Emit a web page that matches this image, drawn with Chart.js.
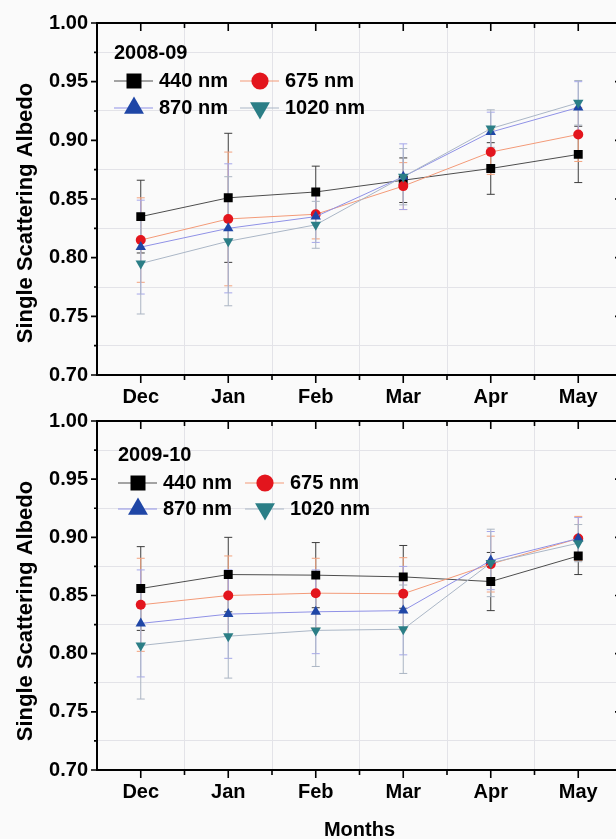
<!DOCTYPE html>
<html>
<head>
<meta charset="utf-8">
<script src="https://cdn.jsdelivr.net/npm/chart.js@4/dist/chart.umd.min.js"></script>
<style>
  html, body { margin: 0; padding: 0; background: #fafafa; overflow: hidden; width: 616px; height: 839px; }
  canvas { position: absolute; left: 0; }
  #c1 { top: 0; }
  #c2 { top: 400px; }
</style>
</head>
<body>
<canvas id="c1" width="632" height="410"></canvas>
<canvas id="c2" width="632" height="445"></canvas>
<script>
const months = ['Dec', 'Jan', 'Feb', 'Mar', 'Apr', 'May'];
const yMajor = [0.70, 0.75, 0.80, 0.85, 0.90, 0.95, 1.00];
const seriesLabels = ['440 nm', '675 nm', '870 nm', '1020 nm'];

// 2008-09 single scattering albedo and error (+/-)
const ssa0809_440 = [0.835, 0.851, 0.856, 0.866, 0.876, 0.888];
const err0809_440 = [0.031, 0.055, 0.022, 0.019, 0.022, 0.024];
const ssa0809_675 = [0.815, 0.833, 0.837, 0.861, 0.890, 0.905];
const err0809_675 = [0.036, 0.057, 0.021, 0.020, 0.019, 0.023];
const ssa0809_870 = [0.809, 0.825, 0.835, 0.869, 0.907, 0.928];
const err0809_870 = [0.040, 0.055, 0.022, 0.028, 0.017, 0.022];
const ssa0809_1020 = [0.795, 0.814, 0.828, 0.869, 0.910, 0.932];
const err0809_1020 = [0.043, 0.055, 0.020, 0.024, 0.016, 0.019];

// 2009-10
const ssa0910_440 = [0.856, 0.868, 0.8675, 0.866, 0.862, 0.884];
const err0910_440 = [0.036, 0.032, 0.028, 0.027, 0.025, 0.016];
const ssa0910_675 = [0.842, 0.850, 0.852, 0.8515, 0.877, 0.899];
const err0910_675 = [0.040, 0.034, 0.030, 0.031, 0.024, 0.019];
const ssa0910_870 = [0.826, 0.834, 0.836, 0.837, 0.880, 0.899];
const err0910_870 = [0.046, 0.038, 0.036, 0.038, 0.025, 0.018];
const ssa0910_1020 = [0.807, 0.815, 0.820, 0.821, 0.878, 0.895];
const err0910_1020 = [0.046, 0.036, 0.031, 0.038, 0.029, 0.016];

const FONT = '"Liberation Sans", Arial, Helvetica, sans-serif';

// marker / line looks for each wavelength
const styles = [
    { borderColor: '#4d4d4d', pointBackgroundColor: '#000000', pointStyle: 'rect', pointRadius: 6.3, errColor: '#3c3c3c', legendRadius: 10.6, order: 3 },
    { borderColor: '#f39a78', pointBackgroundColor: '#e3151d', pointStyle: 'circle', pointRadius: 5, errColor: '#f2a27e', legendRadius: 8.6, order: 2 },
    { borderColor: '#8f91e6', pointBackgroundColor: '#1f46a6', pointStyle: 'triangle', pointRadius: 6, errColor: '#a5a7ea', legendRadius: 11.5, order: 1 },
    { borderColor: '#aab6c6', pointBackgroundColor: '#2b7e86', pointStyle: 'triangle', pointRotation: 180, pointRadius: 6, errColor: '#abb5c3', legendRadius: 11.5, order: 0 }
];

function makeDatasets(values, errors) {
    return values.map((v, i) => Object.assign({
        label: seriesLabels[i],
        data: v,
        errors: errors[i],
        borderWidth: 1,
        pointBorderColor: styles[i].pointBackgroundColor,
        pointBorderWidth: 0,
        tension: 0
    }, styles[i]));
}

// vertical error bars with caps
const errorBars = {
    id: 'errorBars',
    beforeDatasetsDraw(chart) {
        const ctx = chart.ctx;
        const y = chart.scales.y;
        chart.data.datasets.forEach((ds, i) => {
            const meta = chart.getDatasetMeta(i);
            ctx.save();
            ctx.strokeStyle = ds.errColor;
            ctx.lineWidth = 1;
            ctx.beginPath();
            meta.data.forEach((pt, j) => {
                const yt = y.getPixelForValue(ds.data[j] + ds.errors[j]);
                const yb = y.getPixelForValue(ds.data[j] - ds.errors[j]);
                ctx.moveTo(pt.x, yt); ctx.lineTo(pt.x, yb);
                ctx.moveTo(pt.x - 4, yt); ctx.lineTo(pt.x + 4, yt);
                ctx.moveTo(pt.x - 4, yb); ctx.lineTo(pt.x + 4, yb);
            });
            ctx.stroke();
            ctx.restore();
        });
    }
};

// box frame plus major/minor tick marks, and the y title centred on the panel
const frameTicks = {
    id: 'frameTicks',
    afterDraw(chart) {
        const { ctx, chartArea: a, scales: { x, y } } = chart;
        ctx.save();
        ctx.strokeStyle = '#000';
        ctx.lineWidth = 2;
        ctx.strokeRect(a.left, a.top, a.right - a.left, a.bottom - a.top);
        ctx.lineWidth = 1.6;
        ctx.beginPath();
        yMajor.forEach((v, k) => {
            const py = y.getPixelForValue(v);
            ctx.moveTo(a.left - 6, py); ctx.lineTo(a.left, py);
            ctx.moveTo(a.right, py); ctx.lineTo(a.right - 7, py);
            if (k < yMajor.length - 1) {
                const pm = (py + y.getPixelForValue(yMajor[k + 1])) / 2;
                ctx.moveTo(a.left - 3, pm); ctx.lineTo(a.left, pm);
                ctx.moveTo(a.right, pm); ctx.lineTo(a.right - 4, pm);
            }
        });
        const step = x.getPixelForValue(1) - x.getPixelForValue(0);
        months.forEach((m, i) => {
            const px = x.getPixelForValue(i);
            ctx.moveTo(px, a.bottom); ctx.lineTo(px, a.bottom + 8);
            ctx.moveTo(px, a.top); ctx.lineTo(px, a.top + 8);
            const mx = px + step / 2;
            ctx.moveTo(mx, a.bottom); ctx.lineTo(mx, a.bottom + 5);
            ctx.moveTo(mx, a.top); ctx.lineTo(mx, a.top + 5);
        });
        ctx.stroke();

        ctx.translate(26, a.top + 190);
        ctx.rotate(-Math.PI / 2);
        ctx.font = 'bold 22px ' + FONT;
        ctx.fillStyle = '#000';
        ctx.textAlign = 'center';
        ctx.textBaseline = 'middle';
        ctx.fillText('Single Scattering Albedo', 0, 0);
        ctx.restore();
    }
};

// two-column legend box with a season title
const boxLegend = {
    id: 'boxLegend',
    afterDraw(chart, args, opts) {
        const ctx = chart.ctx;
        const a = chart.chartArea;
        ctx.save();
        ctx.font = 'bold 20px ' + FONT;
        ctx.textBaseline = 'middle';
        ctx.textAlign = 'left';
        ctx.fillStyle = '#000';
        ctx.fillText(opts.title, a.left + opts.x, a.top + opts.titleY);
        chart.data.datasets.forEach((ds, i) => {
            const col = i % 2, row = Math.floor(i / 2);
            const lx = a.left + opts.x + col * opts.colW;
            const ly = a.top + opts.rowY + row * opts.rowH;
            ctx.strokeStyle = ds.borderColor;
            ctx.lineWidth = 1;
            ctx.beginPath();
            ctx.moveTo(lx, ly); ctx.lineTo(lx + 39, ly);
            ctx.stroke();
            ctx.fillStyle = ds.pointBackgroundColor;
            ctx.strokeStyle = ds.pointBackgroundColor;
            Chart.helpers.drawPoint(ctx, {
                pointStyle: ds.pointStyle, radius: ds.legendRadius,
                rotation: ds.pointRotation || 0, borderWidth: 0
            }, lx + 20, ly);
            ctx.fillStyle = '#000';
            ctx.fillText(ds.label, lx + 45, ly);
        });
        ctx.restore();
    }
};

function isMajor(v) {
    return Math.abs(v * 20 - Math.round(v * 20)) < 1e-6;
}

function makeOptions(legendOpts, padTop, xHeight, showXTitle) {
    return {
        responsive: false,
        animation: false,
        layout: { padding: { left: 0, top: padTop, right: 10, bottom: 0 } },
        plugins: {
            legend: { display: false },
            tooltip: { enabled: false },
            boxLegend: legendOpts
        },
        scales: {
            x: {
                type: 'category',
                offset: true,
                grid: { offset: true, color: '#e3e3e8', drawTicks: false },
                border: { display: false },
                ticks: { color: '#000', font: { family: FONT, size: 20, weight: 'bold' }, padding: 10, maxRotation: 0, autoSkip: false },
                title: {
                    display: showXTitle, text: 'Months', color: '#000',
                    font: { family: FONT, size: 20, weight: 'bold' },
                    padding: { top: 0, bottom: 3 }
                },
                afterFit(s) { s.height = xHeight; }
            },
            y: {
                min: 0.7,
                max: 1.0,
                grid: {
                    drawTicks: false,
                    color: (c) => isMajor(c.tick.value) ? 'rgba(0,0,0,0)' : '#e3e3e8'
                },
                border: { display: false },
                ticks: {
                    stepSize: 0.025,
                    color: '#000',
                    padding: 9,
                    font: { family: FONT, size: 20, weight: 'bold' },
                    callback: (v) => isMajor(v) ? v.toFixed(2) : ''
                },
                title: { display: false },
                afterFit(s) { s.width = 97; }
            }
        }
    };
}

new Chart(document.getElementById('c1'), {
    type: 'line',
    data: {
        labels: months,
        datasets: makeDatasets(
            [ssa0809_440, ssa0809_675, ssa0809_870, ssa0809_1020],
            [err0809_440, err0809_675, err0809_870, err0809_1020])
    },
    options: makeOptions({ title: '2008-09', x: 17, colW: 126, titleY: 30, rowY: 58, rowH: 27 }, 23, 35, false),
    plugins: [errorBars, frameTicks, boxLegend]
});

new Chart(document.getElementById('c2'), {
    type: 'line',
    data: {
        labels: months,
        datasets: makeDatasets(
            [ssa0910_440, ssa0910_675, ssa0910_870, ssa0910_1020],
            [err0910_440, err0910_675, err0910_870, err0910_1020])
    },
    options: makeOptions({ title: '2009-10', x: 21, colW: 127, titleY: 34, rowY: 62, rowH: 26 }, 19, 75, true),
    plugins: [errorBars, frameTicks, boxLegend]
});
</script>
</body>
</html>
